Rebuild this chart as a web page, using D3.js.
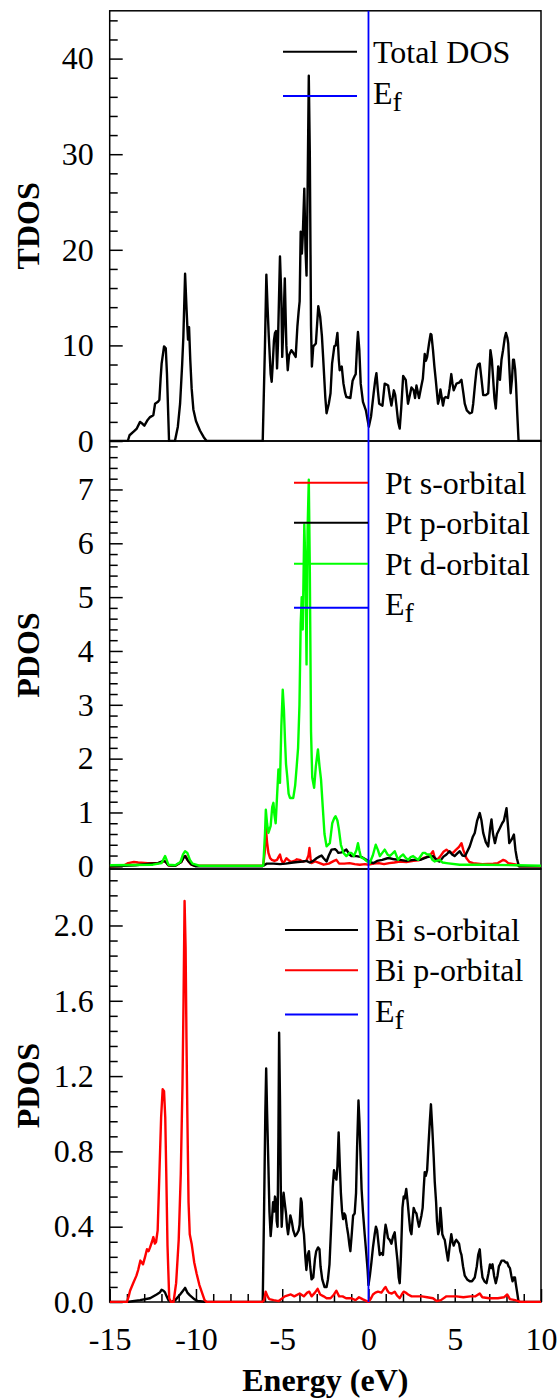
<!DOCTYPE html>
<html>
<head>
<meta charset="utf-8">
<script src="https://cdn.jsdelivr.net/npm/d3@7"></script>
<style>
  body { margin: 0; background: #fff; }
  svg { display: block; font-family: "Liberation Serif", "Times New Roman", serif; }
</style>
</head>
<body>
<svg id="chart" width="560" height="1400"></svg>
<script>
// ---------- data: [energy (eV), density of states] ----------
const energyRange = [-15, 10];
const energyTicks = [-15, -10, -5, 0, 5, 10];
const tdosTicks = [0, 10, 20, 30, 40];
const ptTicks = [0, 1, 2, 3, 4, 5, 6, 7];
const biTicks = [0, 0.4, 0.8, 1.2, 1.6, 2.0];
const fermiLevel = 0;

const totalDos = [[-15,0],[-13.95,0],[-13.85,0.6],[-13.6,1.0],[-13.43,1.3],[-13.24,2.0],[-13.1,1.8],[-12.99,1.6],[-12.8,2.2],[-12.66,2.5],[-12.47,2.7],[-12.37,3.9],[-12.2,4.1],[-12.12,4.3],[-12.05,6.5],[-11.99,8.1],[-11.85,9.9],[-11.75,9.7],[-11.68,7.0],[-11.56,0],[-11.22,0],[-11.05,1.5],[-10.92,3.9],[-10.8,8.0],[-10.73,10.9],[-10.63,17.5],[-10.55,14],[-10.5,12],[-10.46,10.6],[-10.4,11.9],[-10.33,8.5],[-10.25,5.5],[-10.15,3.3],[-10.0,2.1],[-9.77,1.1],[-9.55,0.4],[-9.38,0],[-6.13,0],[-6.0,10],[-5.92,17.4],[-5.85,14],[-5.78,11],[-5.67,7],[-5.61,6.2],[-5.55,8],[-5.48,10.5],[-5.42,11.3],[-5.36,11.5],[-5.3,7.6],[-5.25,10],[-5.13,19.3],[-5.05,15],[-5.0,8.8],[-4.93,12],[-4.85,17.0],[-4.8,13],[-4.76,10],[-4.68,7.4],[-4.6,9.0],[-4.47,9.5],[-4.35,9.2],[-4.22,8.8],[-4.12,12],[-4.05,13.5],[-3.99,14.6],[-3.93,21.9],[-3.86,19.6],[-3.81,21.4],[-3.72,26.4],[-3.65,20],[-3.59,17.3],[-3.53,26],[-3.46,38.2],[-3.4,30],[-3.33,12],[-3.28,7.8],[-3.2,9.9],[-3.05,10.2],[-2.91,14.1],[-2.8,13],[-2.7,11],[-2.63,8.8],[-2.5,4.5],[-2.43,2.9],[-2.3,3.9],[-2.2,5],[-2.11,8.1],[-1.98,9.9],[-1.9,10.0],[-1.8,11.3],[-1.72,8.5],[-1.67,7.4],[-1.55,7.8],[-1.45,6.0],[-1.35,5.0],[-1.28,4.6],[-1.05,4.5],[-0.92,6.3],[-0.8,6.8],[-0.74,7.0],[-0.66,10],[-0.61,11.4],[-0.53,9.5],[-0.45,6],[-0.32,4.1],[-0.15,3.2],[-0.05,2.2],[0.02,1.5],[0.15,2.6],[0.3,5.0],[0.4,6.5],[0.46,7.1],[0.55,5.2],[0.62,3.9],[0.81,3.7],[0.94,6.0],[1.05,5.9],[1.14,5.8],[1.25,4.5],[1.33,3.7],[1.47,5.3],[1.55,4.8],[1.62,3.7],[1.72,2.0],[1.81,1.3],[1.9,3.5],[2.01,6.8],[2.16,6.4],[2.29,3.9],[2.4,4.8],[2.49,5.6],[2.62,5.3],[2.7,4.5],[2.78,5.8],[2.93,4.5],[3.07,5.8],[3.15,6.5],[3.26,9.1],[3.33,8.4],[3.4,8.8],[3.51,10.2],[3.6,11.2],[3.65,11.1],[3.74,9.5],[3.82,7.8],[3.9,6.4],[4.03,3.9],[4.1,4.4],[4.17,5.4],[4.25,4.5],[4.32,3.7],[4.4,4.5],[4.48,4.6],[4.61,4.5],[4.7,5.5],[4.8,7.0],[4.87,6.0],[4.94,5.3],[5.1,6.0],[5.25,6.1],[5.39,6.4],[5.5,5.0],[5.58,3.9],[5.7,3.2],[5.87,2.9],[6.0,3.0],[6.07,3.9],[6.18,6.0],[6.26,7.4],[6.35,8.0],[6.45,8.1],[6.55,6.5],[6.65,4.8],[6.8,4.8],[6.94,5.0],[7.0,7.0],[7.07,9.5],[7.15,8.5],[7.23,6.4],[7.3,4.5],[7.38,3.4],[7.45,5.5],[7.52,7.8],[7.58,7.0],[7.62,6.4],[7.71,8.5],[7.8,9.5],[7.9,10.8],[7.97,11.3],[8.05,10.8],[8.1,10.2],[8.17,7.5],[8.24,5.0],[8.32,6.5],[8.38,8.5],[8.43,8.5],[8.5,7.5],[8.55,6.0],[8.62,3],[8.7,0],[10,0]];

const ptS = [[-15,0],[-14.2,0.01],[-13.93,0.06],[-13.6,0.08],[-13.35,0.07],[-12.8,0.06],[-12.19,0.06],[-11.95,0.08],[-11.79,0.1],[-11.6,0.02],[-11.2,0.01],[-10.85,0.08],[-10.7,0.18],[-10.6,0.19],[-10.5,0.12],[-10.3,0.04],[-10.1,0.01],[-6.1,0.01],[-6.0,0.3],[-5.95,0.72],[-5.88,0.45],[-5.8,0.25],[-5.7,0.15],[-5.6,0.12],[-5.45,0.1],[-5.3,0.12],[-5.2,0.18],[-5.13,0.22],[-5.05,0.12],[-4.95,0.06],[-4.85,0.1],[-4.76,0.15],[-4.65,0.12],[-4.5,0.08],[-4.3,0.1],[-4.15,0.13],[-3.99,0.12],[-3.8,0.09],[-3.6,0.1],[-3.48,0.2],[-3.42,0.34],[-3.36,0.15],[-3.31,0.06],[-3.1,0.09],[-2.9,0.07],[-2.6,0.03],[-2.3,0.05],[-2.0,0.1],[-1.86,0.12],[-1.7,0.05],[-1.4,0.05],[-1.1,0.06],[-0.8,0.04],[-0.5,0.03],[-0.2,0.04],[0,0.03],[0.3,0.05],[0.6,0.06],[0.9,0.04],[1.2,0.06],[1.5,0.07],[1.81,0.09],[2.2,0.08],[2.6,0.1],[2.9,0.11],[3.17,0.15],[3.45,0.18],[3.6,0.22],[3.74,0.28],[3.85,0.15],[3.98,0.12],[4.15,0.18],[4.35,0.27],[4.52,0.31],[4.7,0.26],[4.9,0.25],[5.05,0.3],[5.25,0.36],[5.39,0.43],[5.5,0.3],[5.68,0.15],[5.85,0.08],[6.07,0.06],[6.6,0.04],[7.23,0.05],[7.5,0.06],[7.7,0.1],[7.81,0.12],[7.95,0.1],[8.1,0.06],[8.58,0.03],[8.75,0],[10,0]];

const ptP = [[-15,0],[-14.2,0.01],[-13.5,0.02],[-12.66,0.05],[-12.2,0.06],[-11.89,0.1],[-11.75,0.08],[-11.6,0.02],[-11.2,0.01],[-10.85,0.08],[-10.7,0.17],[-10.63,0.19],[-10.45,0.1],[-10.25,0.03],[-10.0,0],[-6.15,0],[-6.0,0.03],[-5.9,0.05],[-5.5,0.05],[-5.13,0.04],[-4.8,0.05],[-4.36,0.07],[-4.1,0.08],[-3.8,0.09],[-3.6,0.1],[-3.41,0.07],[-3.2,0.1],[-3.01,0.15],[-2.85,0.18],[-2.72,0.2],[-2.6,0.15],[-2.43,0.09],[-2.3,0.2],[-2.14,0.31],[-1.95,0.32],[-1.86,0.3],[-1.75,0.25],[-1.55,0.26],[-1.28,0.31],[-1.1,0.22],[-0.99,0.19],[-0.7,0.19],[-0.4,0.17],[-0.12,0.12],[0.07,0.08],[0.3,0.06],[0.5,0.1],[0.8,0.12],[1.1,0.15],[1.23,0.15],[1.5,0.13],[1.8,0.12],[2.2,0.1],[2.6,0.12],[3.0,0.12],[3.4,0.17],[3.74,0.19],[4.0,0.1],[4.13,0.09],[4.35,0.18],[4.52,0.22],[4.7,0.28],[4.85,0.22],[4.99,0.19],[5.15,0.24],[5.29,0.28],[5.45,0.2],[5.6,0.19],[5.87,0.37],[6.05,0.55],[6.16,0.62],[6.3,0.85],[6.45,0.99],[6.55,0.85],[6.65,0.62],[6.8,0.45],[6.94,0.37],[7.05,0.7],[7.13,0.87],[7.22,0.6],[7.33,0.43],[7.45,0.6],[7.62,0.71],[7.75,0.8],[7.85,0.85],[8.0,1.08],[8.1,0.7],[8.16,0.43],[8.3,0.5],[8.43,0.59],[8.52,0.3],[8.6,0.15],[8.72,0],[10,0]];

const ptD = [[-15,0.02],[-12.5,0.03],[-12.0,0.06],[-11.9,0.12],[-11.79,0.19],[-11.7,0.12],[-11.6,0.03],[-11.2,0.02],[-10.9,0.08],[-10.75,0.22],[-10.63,0.28],[-10.5,0.25],[-10.35,0.12],[-10.2,0.05],[-9.8,0.01],[-6.1,0.01],[-6.0,0.6],[-5.95,1.05],[-5.88,0.8],[-5.8,0.62],[-5.72,0.7],[-5.67,0.75],[-5.58,1.1],[-5.51,1.18],[-5.45,0.95],[-5.38,0.8],[-5.3,1.3],[-5.22,1.8],[-5.17,1.75],[-5.13,1.55],[-5.05,2.6],[-4.97,3.28],[-4.9,2.9],[-4.84,2.35],[-4.78,1.9],[-4.71,1.67],[-4.63,1.35],[-4.55,1.27],[-4.36,1.27],[-4.25,1.5],[-4.16,1.86],[-4.08,2.2],[-4.0,3.0],[-3.93,4.5],[-3.87,5.0],[-3.81,4.4],[-3.72,6.35],[-3.65,5.5],[-3.59,3.75],[-3.53,6.25],[-3.46,7.18],[-3.4,5.5],[-3.33,2.5],[-3.26,1.65],[-3.15,1.46],[-3.05,1.86],[-2.93,2.17],[-2.84,1.86],[-2.75,1.61],[-2.65,1.1],[-2.55,0.6],[-2.43,0.37],[-2.24,0.43],[-2.1,0.8],[-1.98,0.9],[-1.91,0.93],[-1.8,0.85],[-1.72,0.7],[-1.6,0.4],[-1.45,0.25],[-1.28,0.19],[-1.1,0.25],[-0.99,0.25],[-0.85,0.19],[-0.7,0.3],[-0.61,0.43],[-0.53,0.3],[-0.44,0.17],[-0.25,0.14],[-0.12,0.1],[0.07,0.06],[0.25,0.2],[0.42,0.4],[0.55,0.3],[0.66,0.19],[0.8,0.25],[0.94,0.31],[1.1,0.22],[1.23,0.19],[1.4,0.24],[1.52,0.28],[1.72,0.12],[1.85,0.18],[2.01,0.22],[2.15,0.16],[2.3,0.12],[2.45,0.17],[2.59,0.19],[2.75,0.15],[2.88,0.12],[3.05,0.2],[3.15,0.25],[3.26,0.25],[3.4,0.22],[3.55,0.22],[3.7,0.12],[3.84,0.09],[4.13,0.12],[4.3,0.07],[4.52,0.06],[5.29,0.03],[6.65,0.03],[8.58,0.02],[10,0.01]];

const biS = [[-15,0],[-14.0,0],[-13.24,0.01],[-12.66,0.02],[-12.28,0.04],[-12.1,0.05],[-11.99,0.065],[-11.88,0.06],[-11.79,0.05],[-11.7,0.03],[-11.6,0.01],[-11.45,0],[-11.2,0.01],[-10.92,0.04],[-10.75,0.06],[-10.63,0.075],[-10.5,0.05],[-10.35,0.035],[-10.1,0.015],[-9.9,0.005],[-9.38,0],[-6.13,0],[-6.05,0.5],[-5.98,1.0],[-5.93,1.24],[-5.88,1.02],[-5.8,0.72],[-5.74,0.48],[-5.67,0.35],[-5.6,0.43],[-5.53,0.53],[-5.47,0.48],[-5.42,0.56],[-5.36,0.53],[-5.32,0.43],[-5.27,0.4],[-5.22,0.88],[-5.18,1.43],[-5.13,1.08],[-5.08,0.58],[-5.03,0.4],[-4.96,0.53],[-4.92,0.58],[-4.86,0.53],[-4.78,0.47],[-4.72,0.4],[-4.66,0.36],[-4.58,0.42],[-4.53,0.46],[-4.45,0.43],[-4.36,0.38],[-4.25,0.35],[-4.16,0.36],[-4.05,0.38],[-3.99,0.41],[-3.92,0.55],[-3.87,0.53],[-3.8,0.4],[-3.74,0.36],[-3.66,0.24],[-3.6,0.17],[-3.52,0.25],[-3.45,0.27],[-3.38,0.19],[-3.3,0.12],[-3.2,0.13],[-3.1,0.23],[-3.03,0.27],[-2.92,0.29],[-2.84,0.28],[-2.78,0.19],[-2.68,0.12],[-2.55,0.08],[-2.43,0.08],[-2.35,0.12],[-2.26,0.2],[-2.15,0.43],[-2.07,0.61],[-2.0,0.7],[-1.93,0.67],[-1.86,0.65],[-1.8,0.72],[-1.73,0.9],[-1.66,0.72],[-1.6,0.58],[-1.53,0.48],[-1.47,0.44],[-1.4,0.47],[-1.34,0.46],[-1.25,0.4],[-1.18,0.36],[-1.1,0.3],[-1.05,0.27],[-0.97,0.36],[-0.89,0.46],[-0.8,0.47],[-0.72,0.58],[-0.66,0.82],[-0.58,1.07],[-0.52,0.95],[-0.47,0.8],[-0.4,0.6],[-0.32,0.48],[-0.22,0.36],[-0.12,0.25],[-0.05,0.17],[0,0.09],[0.08,0.14],[0.17,0.21],[0.26,0.29],[0.36,0.36],[0.43,0.4],[0.5,0.38],[0.58,0.31],[0.65,0.25],[0.75,0.26],[0.84,0.25],[0.92,0.35],[0.99,0.41],[1.06,0.38],[1.13,0.34],[1.23,0.33],[1.33,0.31],[1.43,0.35],[1.52,0.37],[1.6,0.29],[1.68,0.22],[1.75,0.13],[1.81,0.1],[1.88,0.24],[1.97,0.5],[2.04,0.56],[2.1,0.55],[2.19,0.6],[2.27,0.53],[2.35,0.45],[2.42,0.38],[2.49,0.36],[2.56,0.44],[2.62,0.5],[2.7,0.48],[2.78,0.47],[2.86,0.43],[2.93,0.4],[3.0,0.43],[3.07,0.46],[3.14,0.5],[3.2,0.6],[3.26,0.69],[3.32,0.67],[3.4,0.7],[3.47,0.82],[3.55,0.95],[3.62,1.05],[3.7,0.92],[3.78,0.77],[3.84,0.64],[3.92,0.53],[3.97,0.43],[4.04,0.36],[4.1,0.38],[4.17,0.5],[4.23,0.43],[4.28,0.36],[4.36,0.34],[4.42,0.33],[4.52,0.27],[4.61,0.22],[4.7,0.29],[4.8,0.36],[4.87,0.32],[4.94,0.3],[5.02,0.32],[5.09,0.33],[5.17,0.32],[5.25,0.31],[5.32,0.27],[5.39,0.25],[5.48,0.19],[5.58,0.14],[5.72,0.12],[5.87,0.11],[6.0,0.11],[6.16,0.13],[6.28,0.19],[6.36,0.25],[6.45,0.28],[6.53,0.19],[6.61,0.13],[6.72,0.11],[6.84,0.1],[6.95,0.15],[7.04,0.2],[7.12,0.18],[7.19,0.2],[7.28,0.14],[7.38,0.1],[7.48,0.14],[7.56,0.19],[7.62,0.2],[7.72,0.22],[7.85,0.22],[7.95,0.21],[8.04,0.21],[8.12,0.19],[8.2,0.18],[8.28,0.14],[8.35,0.11],[8.42,0.13],[8.49,0.13],[8.55,0.09],[8.62,0.05],[8.7,0],[10,0]];

const biP = [[-15,0],[-14.0,0],[-13.9,0.03],[-13.82,0.06],[-13.64,0.1],[-13.45,0.14],[-13.35,0.17],[-13.22,0.22],[-13.07,0.2],[-12.95,0.24],[-12.84,0.28],[-12.75,0.27],[-12.66,0.29],[-12.55,0.32],[-12.47,0.345],[-12.38,0.31],[-12.31,0.32],[-12.22,0.38],[-12.12,0.68],[-12.02,0.98],[-11.93,1.13],[-11.85,1.12],[-11.78,0.98],[-11.72,0.68],[-11.65,0.3],[-11.55,0.02],[-11.45,0],[-11.3,0],[-11.15,0.1],[-11.0,0.33],[-10.88,0.68],[-10.78,1.16],[-10.72,1.6],[-10.66,2.13],[-10.6,1.88],[-10.55,1.4],[-10.5,1.0],[-10.43,0.53],[-10.36,0.36],[-10.25,0.31],[-10.1,0.21],[-9.96,0.15],[-9.8,0.09],[-9.65,0.05],[-9.5,0.01],[-9.38,0],[-6.15,0],[-6.05,0.01],[-5.96,0.055],[-5.85,0.03],[-5.75,0.015],[-5.5,0.01],[-5.2,0.005],[-4.85,0.03],[-4.5,0.04],[-4.3,0.03],[-3.99,0.045],[-3.75,0.03],[-3.55,0.05],[-3.43,0.055],[-3.3,0.03],[-3.1,0.05],[-2.95,0.07],[-2.8,0.04],[-2.6,0.03],[-2.43,0.02],[-2.2,0.02],[-2.0,0.04],[-1.86,0.06],[-1.7,0.03],[-1.5,0.03],[-1.3,0.02],[-1.0,0.02],[-0.75,0.01],[-0.55,0.025],[-0.35,0.015],[-0.1,0.005],[0,0],[0.15,0.02],[0.26,0.04],[0.4,0.05],[0.55,0.055],[0.75,0.05],[0.9,0.07],[0.99,0.08],[1.1,0.06],[1.18,0.05],[1.35,0.045],[1.52,0.055],[1.65,0.035],[1.81,0.02],[1.93,0.04],[2.04,0.055],[2.15,0.05],[2.3,0.04],[2.5,0.03],[2.8,0.03],[3.1,0.03],[3.4,0.025],[3.74,0.02],[3.95,0.005],[4.2,0.01],[4.52,0.03],[4.8,0.03],[5.1,0.03],[5.5,0.025],[5.9,0.03],[6.2,0.03],[6.45,0.045],[6.6,0.025],[7.0,0.02],[7.5,0.02],[7.85,0.025],[8.04,0.04],[8.2,0.015],[8.5,0.01],[8.8,0],[10,0]];

// ---------- layout ----------
const FONT = 32;
const BLUE = "#0000ff";
const plotLeft = 109.7, plotRight = 541;
const svg = d3.select("#chart");

const x = d3.scaleLinear().domain(energyRange).range([plotLeft, plotRight]);

const panels = [
  { top: 10.8, bottom: 441, domain: [0, 45], major: tdosTicks, minorStep: 2, fmt: d3.format("d"),
    title: "TDOS",
    series: [{ data: totalDos, color: "#000" }],
    legend: { x1: 283, x2: 357, tx: 373,
      rows: [{ label: "Total DOS", color: "#000", y: 51.7 }, { label: "Ef", color: BLUE, y: 96 }] } },
  { top: 441, bottom: 869, domain: [-0.05, 7.9], major: ptTicks, minorStep: 0.2, fmt: d3.format("d"),
    title: "PDOS",
    series: [{ data: ptS, color: "#ff0000" }, { data: ptP, color: "#000" }, { data: ptD, color: "#00ff00" }],
    legend: { x1: 294, x2: 368, tx: 385,
      rows: [{ label: "Pt s-orbital", color: "#ff0000", y: 482.7 },
             { label: "Pt p-orbital", color: "#000", y: 522.7 },
             { label: "Pt d-orbital", color: "#00ff00", y: 563.7 },
             { label: "Ef", color: BLUE, y: 607.7 }] } },
  { top: 869, bottom: 1302, domain: [0, 2.3], major: biTicks, minorStep: 0.08, fmt: d3.format(".1f"),
    title: "PDOS",
    series: [{ data: biS, color: "#000" }, { data: biP, color: "#ff0000" }],
    legend: { x1: 285, x2: 358, tx: 375,
      rows: [{ label: "Bi s-orbital", color: "#000", y: 930 },
             { label: "Bi p-orbital", color: "#ff0000", y: 970.3 },
             { label: "Ef", color: BLUE, y: 1014.5 }] } }
];

panels.forEach((p, i) => {
  const y = d3.scaleLinear().domain(p.domain).range([p.bottom, p.top]);
  const g = svg.append("g");

  // frame
  g.append("rect")
    .attr("x", plotLeft).attr("y", p.top)
    .attr("width", plotRight - plotLeft).attr("height", p.bottom - p.top)
    .attr("fill", "none").attr("stroke", "#000").attr("stroke-width", 1.5);

  // minor ticks on the left axis
  const step = p.minorStep;
  const majorStep = p.major[1] - p.major[0];
  const minor = d3.range(0, p.domain[1] + 1e-9, step)
    .map(v => +v.toFixed(4))
    .filter(v => Math.abs(v / majorStep - Math.round(v / majorStep)) > 1e-6 && v < p.domain[1] - 1e-9);

  const minorAxis = g.append("g").attr("transform", `translate(${plotLeft},0)`)
    .call(d3.axisLeft(y).tickValues(minor).tickSize(-8).tickFormat(""));
  minorAxis.select(".domain").remove();

  const majorAxis = g.append("g").attr("transform", `translate(${plotLeft},0)`)
    .call(d3.axisLeft(y).tickValues(p.major).tickSize(-13).tickPadding(16).tickFormat(p.fmt));
  majorAxis.select(".domain").remove();
  majorAxis.selectAll("text").attr("font-size", FONT).attr("font-family", "Liberation Serif").attr("fill", "#000");
  g.selectAll(".tick line").attr("stroke", "#000").attr("stroke-width", 1.5);

  // axis title
  g.append("text")
    .attr("transform", `translate(38.5,${(p.top + p.bottom) / 2}) rotate(-90)`)
    .attr("text-anchor", "middle")
    .attr("font-size", FONT).attr("font-weight", "bold")
    .text(p.title);

  // bottom energy axis on the last panel only
  if (i === panels.length - 1) {
    const minorX = d3.range(energyRange[0], energyRange[1] + 1e-9, 1).filter(v => v % 5 !== 0);
    const mx = g.append("g").attr("transform", `translate(0,${p.bottom})`)
      .call(d3.axisBottom(x).tickValues(minorX).tickSize(-8).tickFormat(""));
    mx.select(".domain").remove();
    const ax = g.append("g").attr("transform", `translate(0,${p.bottom})`)
      .call(d3.axisBottom(x).tickValues(energyTicks).tickSize(-13).tickPadding(25).tickFormat(d3.format("d")));
    ax.select(".domain").remove();
    ax.selectAll("text").attr("font-size", FONT).attr("font-family", "Liberation Serif").attr("fill", "#000")
      .text(d => d < 0 ? "-" + Math.abs(d) : d);
    g.selectAll(".tick line").attr("stroke", "#000").attr("stroke-width", 1.5);

    g.append("text")
      .attr("x", (plotLeft + plotRight) / 2).attr("y", 1391)
      .attr("text-anchor", "middle")
      .attr("font-size", FONT).attr("font-weight", "bold")
      .text("Energy (eV)");
  }

  // curves
  const clipId = "clip" + i;
  svg.append("clipPath").attr("id", clipId).append("rect")
    .attr("x", plotLeft).attr("y", p.top - 1)
    .attr("width", plotRight - plotLeft).attr("height", p.bottom - p.top + 2);

  const line = d3.line().x(d => x(d[0])).y(d => y(d[1]));
  const curves = svg.append("g").attr("clip-path", `url(#${clipId})`);
  p.series.forEach(s => {
    curves.append("path").datum(s.data)
      .attr("d", line)
      .attr("fill", "none").attr("stroke", s.color)
      .attr("stroke-width", 2.4).attr("stroke-linejoin", "round");
  });
});

// Fermi level across all three panels
svg.append("line")
  .attr("x1", x(fermiLevel)).attr("x2", x(fermiLevel))
  .attr("y1", panels[0].top).attr("y2", panels[panels.length - 1].bottom)
  .attr("stroke", BLUE).attr("stroke-width", 1.8);

// legends
panels.forEach(p => {
  const lg = svg.append("g");
  p.legend.rows.forEach(r => {
    lg.append("line")
      .attr("x1", p.legend.x1).attr("x2", p.legend.x2)
      .attr("y1", r.y).attr("y2", r.y)
      .attr("stroke", r.color).attr("stroke-width", 2);
    const t = lg.append("text").attr("x", p.legend.tx).attr("font-size", FONT).attr("fill", "#000");
    if (r.label === "Ef") {
      t.attr("y", r.y + 7.5);
      t.append("tspan").text("E");
      t.append("tspan").attr("font-size", 28).attr("dy", 7).text("f");
    } else {
      t.attr("y", r.y + 11).text(r.label);
    }
  });
});
</script>
</body>
</html>
